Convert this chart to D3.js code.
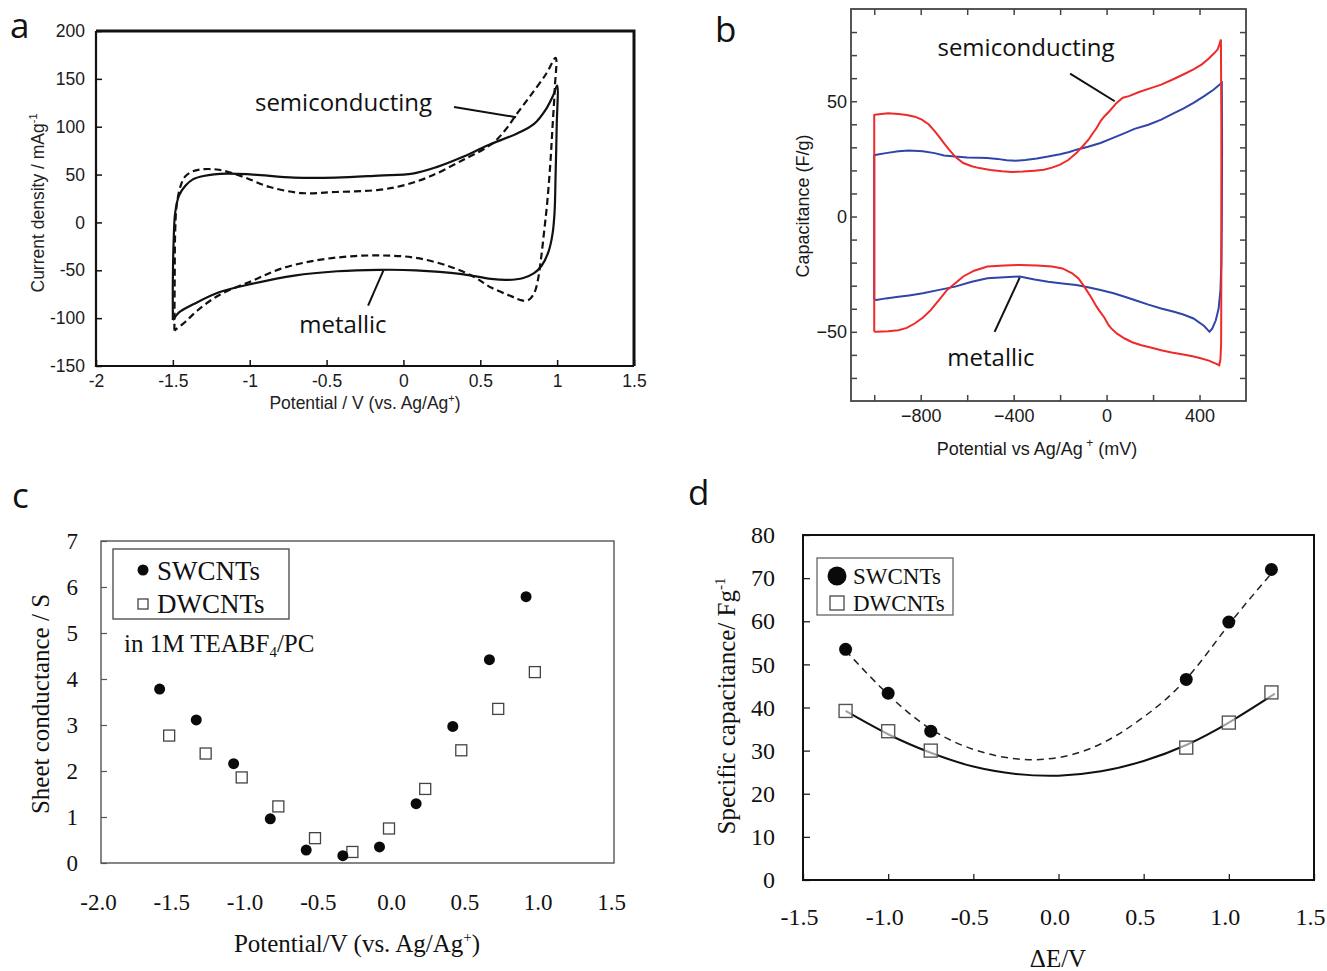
<!DOCTYPE html>
<html><head><meta charset="utf-8">
<script src="https://cdn.jsdelivr.net/npm/d3@7"></script>
<style>body{margin:0;background:#fff}</style>
</head><body><svg id="fig" width="1327" height="971"></svg>
<script>
// ---------- Panel a data ----------
const aTicksX = [-2,-1.5,-1,-0.5,0,0.5,1,1.5];
const aTicksY = [-150,-100,-50,0,50,100,150,200];
const aMetallic = [[-1.50,-102],[-1.50,-60],[-1.495,-20],[-1.485,10],[-1.46,28],[-1.42,38],[-1.37,45],[-1.3,48.5],[-1.15,51],[-0.98,50],[-0.71,46.8],[-0.44,46.8],[-0.16,49],[0.06,51],[0.22,58],[0.38,68],[0.55,80.6],[0.74,93],[0.85,103],[0.93,119],[0.975,133],[1.0,143],
[0.997,100],[0.99,50],[0.983,10],[0.97,-12],[0.945,-30],[0.9,-45],[0.85,-53],[0.78,-58],[0.68,-60],[0.57,-59],[0.38,-54],[0.08,-50],[-0.16,-49.5],[-0.43,-51],[-0.71,-55.5],[-0.98,-64],[-1.2,-73],[-1.36,-85],[-1.46,-94],[-1.50,-102]];
const aSemiconducting = [[-1.49,-113],[-1.488,-60],[-1.485,-10],[-1.475,18],[-1.45,38],[-1.42,48],[-1.37,53.5],[-1.31,55.5],[-1.2,55],[-1.04,47.5],[-0.87,37],[-0.66,30.7],[-0.44,31.8],[-0.16,34],[0.0,38.7],[0.165,47.5],[0.384,65],[0.575,82],[0.66,96],[0.74,114],[0.82,131],[0.93,155.6],[0.99,172],
[0.985,141],[0.97,100],[0.955,60],[0.935,20],[0.915,-10],[0.895,-38],[0.875,-60],[0.85,-74],[0.81,-81.5],[0.76,-81],[0.7,-77],[0.57,-68],[0.46,-57],[0.3,-46],[0.08,-37],[-0.14,-34.5],[-0.36,-35.6],[-0.58,-40],[-0.8,-48.5],[-0.98,-60.7],[-1.2,-76],[-1.34,-92],[-1.42,-104],[-1.49,-113]];

// ---------- Panel b data ----------
const bTicksX = [-1000,-800,-600,-400,-200,0,200,400];
const bLabelsX = [-800,-400,0,400];
const bTicksY = [-70,-60,-50,-40,-30,-20,-10,0,10,20,30,40,50,60,70,80];
const bLabelsY = [-50,0,50];
const bSemiconducting = [[-1000,-50],[-1000,44],[-990,44.2],[-940,44.8],[-896,44.5],[-860,44],[-826,43.3],[-795,42],[-765,39.9],[-740,37],[-722,34.8],[-700,31.8],[-678,29],[-650,25.8],[-617,23.2],[-580,21.8],[-548,21],[-500,20.2],[-450,19.6],[-409,19.3],[-360,19.5],[-310,19.9],[-270,20.3],[-235,21.2],[-200,22.5],[-165,24.5],[-130,27.5],[-100,30.8],[-78,33.3],[-60,36],[-43,38.4],[-25,41.5],[-9,43.5],[15,46],[43,49.3],[70,51.5],[96,52.2],[140,54],[190,55.7],[235,57.2],[280,59.2],[330,61.6],[374,63.8],[410,66],[440,68.5],[465,71],[478,72.5],[485,74.5],[492,76.8],
[494,40],[494,-20],[493,-55],[490,-62],[485,-64.5],[470,-63.8],[440,-62.5],[409,-61.6],[370,-60.6],[330,-59.8],[280,-59],[235,-58],[190,-56.8],[150,-55.8],[110,-54.5],[78,-52.9],[45,-50.8],[20,-48.5],[9,-47.1],[-10,-43.8],[-30,-41],[-43,-39.1],[-70,-34.5],[-96,-30.4],[-120,-27],[-148,-24.6],[-190,-22.5],[-235,-21.7],[-300,-21.2],[-374,-21],[-440,-21.2],[-513,-21.7],[-570,-23.5],[-617,-26],[-650,-28.8],[-687,-31.9],[-720,-36],[-757,-40.6],[-790,-43.8],[-826,-46.4],[-860,-48.3],[-896,-49.3],[-940,-49.8],[-991,-50],[-1000,-50]];
const bMetallic = [[-1000,-36],[-1000,26.5],[-991,26.8],[-950,27.5],[-896,28.3],[-850,28.6],[-791,28.3],[-740,27.5],[-700,26.5],[-652,26],[-600,25.6],[-550,25.5],[-513,25.4],[-470,25],[-430,24.4],[-391,24.2],[-350,24.5],[-300,25.2],[-252,26],[-200,27],[-160,28],[-130,29],[-80,30.3],[-26,31.9],[20,33.8],[78,36.2],[120,38],[180,39.8],[235,42],[290,44.8],[330,46.8],[374,49.3],[420,52.2],[460,55],[496,58],
[497,30],[496,0],[494,-20],[490,-32],[482,-40],[470,-45],[455,-48.5],[443,-50],[420,-47.5],[374,-44.2],[330,-42.5],[290,-41.3],[235,-39.9],[180,-38.2],[130,-36.5],[78,-34.8],[30,-33.3],[-26,-31.9],[-80,-30.7],[-130,-29.7],[-190,-29],[-252,-28.3],[-310,-27.3],[-374,-26],[-440,-26.3],[-513,-26.8],[-580,-28.3],[-652,-30.4],[-720,-31.8],[-791,-33.3],[-850,-34.2],[-896,-34.8],[-950,-35.5],[-991,-36.2],[-1000,-36]];

// ---------- Panel c data ----------
const cTicksX = [-2,-1.5,-1,-0.5,0,0.5,1,1.5];
const cTicksY = [0,1,2,3,4,5,6,7];
const cPotentialSW = [-1.6,-1.35,-1.095,-0.845,-0.6,-0.35,-0.1,0.15,0.4,0.65,0.9];
const cSheetSW = [3.78,3.11,2.16,0.96,0.28,0.16,0.35,1.29,2.97,4.42,5.79];
const cPotentialDW = [-1.535,-1.286,-1.04,-0.79,-0.54,-0.285,-0.035,0.212,0.458,0.71,0.96];
const cSheetDW = [2.77,2.38,1.86,1.23,0.54,0.24,0.75,1.61,2.45,3.35,4.15];

// ---------- Panel d data ----------
const dTicksX = [-1.5,-1,-0.5,0,0.5,1,1.5];
const dTicksY = [0,10,20,30,40,50,60,70,80];
const dDeltaE = [-1.25,-1,-0.75,0.75,1,1.25];
const dSW = [53.5,43.3,34.5,46.5,59.8,72];
const dDW = [39.2,34.5,30,30.7,36.5,43.5];
const dFitX = [-1.25,-1,-0.75,-0.5,-0.25,0,0.25,0.5,0.75,1,1.27];
const dFitSW = [53.2,43,35,30.3,28.1,28.4,31.6,37.8,46.6,59.2,72];
const dFitDW = [39.2,33.8,29.5,26.3,24.6,24.2,25.2,27.6,31.3,36.5,43.2];

const svg = d3.select("#fig");
svg.append("rect").attr("width",1327).attr("height",971).attr("fill","#fff");

const SANS = "'Liberation Sans', Arial, sans-serif";
const SERIF = "'Liberation Serif', 'Times New Roman', serif";
const CAL = "'Open Sans', 'Noto Sans', sans-serif";

function styleAxis(g, font, size, color){
  g.select(".domain").remove();
  g.selectAll("text").attr("font-family", font).attr("font-size", size).attr("fill", color);
}
function panelLetter(t,x,y){
  svg.append("text").attr("x",x).attr("y",y).attr("font-family",CAL).attr("font-size",35).attr("fill","#111").text(t);
}

// ================= Panel a =================
{
  const x = d3.scaleLinear().domain([-2,1.5]).range([96,634]);
  const y = d3.scaleLinear().domain([-150,200]).range([366,31]);
  const g = svg.append("g");
  const fmt = v => (v<0?"-":"")+Math.abs(v);
  g.append("g").attr("transform","translate(0,366)")
    .call(d3.axisBottom(x).tickValues(aTicksX).tickFormat(fmt).tickSize(-6).tickPadding(9))
    .call(a=>styleAxis(a,SANS,17.5,"#1a1a1a")).selectAll("line").attr("stroke","#111").attr("stroke-width",1.5);
  g.append("g").attr("transform","translate(96,0)")
    .call(d3.axisLeft(y).tickValues(aTicksY).tickFormat(fmt).tickSize(-6).tickPadding(11))
    .call(a=>styleAxis(a,SANS,17.5,"#1a1a1a")).selectAll("line").attr("stroke","#111").attr("stroke-width",1.5);
  const line = d3.line().x(d=>x(d[0])).y(d=>y(d[1])).curve(d3.curveCatmullRom.alpha(0.5));
  g.append("path").attr("d",line(aMetallic)).attr("fill","none").attr("stroke","#111").attr("stroke-width",2.2);
  g.append("path").attr("d",line(aSemiconducting)).attr("fill","none").attr("stroke","#111").attr("stroke-width",2.2).attr("stroke-dasharray","7,4");
  // frame
  g.append("path").attr("d",`M96,31V366H634`).attr("fill","none").attr("stroke","#111").attr("stroke-width",2.2);
  g.append("path").attr("d",`M96,31H634V366`).attr("fill","none").attr("stroke","#111").attr("stroke-width",3);
  // annotations
  g.append("line").attr("x1",x(0.329)).attr("y1",y(120.6)).attr("x2",x(0.733)).attr("y2",y(110)).attr("stroke","#111").attr("stroke-width",2);
  g.append("line").attr("x1",x(-0.23)).attr("y1",y(-87)).attr("x2",x(-0.13)).attr("y2",y(-50)).attr("stroke","#111").attr("stroke-width",2);
  g.append("text").attr("x",343.5).attr("y",111).attr("text-anchor","middle").attr("font-family",CAL).attr("font-size",24).attr("fill","#111").text("semiconducting");
  g.append("text").attr("x",343).attr("y",333).attr("text-anchor","middle").attr("font-family",CAL).attr("font-size",24).attr("fill","#111").text("metallic");
  // titles
  const yt = g.append("text").attr("transform","translate(44,203) rotate(-90)").attr("text-anchor","middle").attr("font-family",SANS).attr("font-size",17.5).attr("fill","#222");
  yt.append("tspan").text("Current density / mAg");
  yt.append("tspan").attr("font-size",11).attr("dy",-7).text("-1");
  const xt = g.append("text").attr("x",365).attr("y",409).attr("text-anchor","middle").attr("font-family",SANS).attr("font-size",17.5).attr("fill","#222");
  xt.append("tspan").text("Potential / V (vs. Ag/Ag");
  xt.append("tspan").attr("font-size",11).attr("dy",-7).text("+");
  xt.append("tspan").attr("dy",7).text(")");
  panelLetter("a",10,38);
}

// ================= Panel b =================
{
  const x = d3.scaleLinear().domain([-1100,600]).range([851,1246]);
  const y = d3.scaleLinear().domain([-80,90]).range([401,9]);
  const g = svg.append("g");
  const fmt = v => (v<0?"\u2212":"")+Math.abs(v);
  const fx = v => bLabelsX.includes(v)?fmt(v):"";
  const fy = v => bLabelsY.includes(v)?fmt(v):"";
  const tk = a => a.selectAll("line").attr("stroke","#444").attr("stroke-width",1.5);
  g.append("g").attr("transform","translate(0,401)").call(d3.axisBottom(x).tickValues(bTicksX).tickFormat(fx).tickSize(-6).tickPadding(8)).call(a=>styleAxis(a,SANS,18,"#1a1a1a")).call(tk);
  g.append("g").attr("transform","translate(0,9)").call(d3.axisTop(x).tickValues(bTicksX).tickFormat("").tickSize(-6)).call(a=>styleAxis(a,SANS,18,"#1a1a1a")).call(tk);
  g.append("g").attr("transform","translate(851,0)").call(d3.axisLeft(y).tickValues(bTicksY).tickFormat(fy).tickSize(-6).tickPadding(4)).call(a=>styleAxis(a,SANS,18,"#1a1a1a")).call(tk);
  g.append("g").attr("transform","translate(1246,0)").call(d3.axisRight(y).tickValues(bTicksY).tickFormat("").tickSize(-6)).call(a=>styleAxis(a,SANS,18,"#1a1a1a")).call(tk);
  g.append("rect").attr("x",851).attr("y",9).attr("width",395).attr("height",392).attr("fill","none").attr("stroke","#444").attr("stroke-width",1.8);
  const line = d3.line().x(d=>x(d[0])).y(d=>y(d[1])).curve(d3.curveLinear);
  g.append("path").attr("d",line(bMetallic)).attr("fill","none").attr("stroke","#2f45a8").attr("stroke-width",2);
  g.append("path").attr("d",line(bSemiconducting)).attr("fill","none").attr("stroke","#ee2a2a").attr("stroke-width",2);
  g.append("line").attr("x1",x(-157)).attr("y1",y(62)).attr("x2",x(35)).attr("y2",y(50)).attr("stroke","#111").attr("stroke-width",2);
  g.append("line").attr("x1",x(-482)).attr("y1",y(-50)).attr("x2",x(-374)).attr("y2",y(-26.5)).attr("stroke","#111").attr("stroke-width",2);
  g.append("text").attr("x",1026).attr("y",56).attr("text-anchor","middle").attr("font-family",CAL).attr("font-size",24).attr("fill","#111").text("semiconducting");
  g.append("text").attr("x",991).attr("y",366).attr("text-anchor","middle").attr("font-family",CAL).attr("font-size",24).attr("fill","#111").text("metallic");
  g.append("text").attr("transform","translate(809,206) rotate(-90)").attr("text-anchor","middle").attr("font-family",SANS).attr("font-size",18).attr("fill","#1a1a1a").text("Capacitance (F/g)");
  const xt = g.append("text").attr("x",1037).attr("y",455).attr("text-anchor","middle").attr("font-family",SANS).attr("font-size",18).attr("fill","#1a1a1a");
  xt.append("tspan").text("Potential vs Ag/Ag");
  xt.append("tspan").attr("font-size",12).attr("dy",-8).text(" +");
  xt.append("tspan").attr("dy",8).text(" (mV)");
  panelLetter("b",715,42);
}

// ================= Panel c =================
{
  const x = d3.scaleLinear().domain([-2,1.5]).range([101,614]);
  const y = d3.scaleLinear().domain([0,7]).range([863,541]);
  const g = svg.append("g");
  const fx = v => (v<0?"-":"")+Math.abs(v).toFixed(1);
  g.append("g").attr("transform","translate(-3,863)").call(d3.axisBottom(x).tickValues(cTicksX).tickFormat(fx).tickSize(0).tickPadding(31)).call(a=>styleAxis(a,SERIF,23,"#111"));
  g.append("g").attr("transform","translate(101,0)").call(d3.axisLeft(y).tickValues(cTicksY).tickFormat(d3.format("d")).tickSize(-6).tickPadding(23)).call(a=>styleAxis(a,SERIF,23,"#111")).selectAll("line").attr("stroke","#555").attr("stroke-width",1.2);
  g.append("rect").attr("x",101).attr("y",541).attr("width",513).attr("height",322).attr("fill","none").attr("stroke","#555").attr("stroke-width",1.4);
  g.selectAll(".dw").data(cPotentialDW).enter().append("rect")
    .attr("x",(d,i)=>x(d)-5.5).attr("y",(d,i)=>y(cSheetDW[i])-5.5).attr("width",11).attr("height",11)
    .attr("fill","#fff").attr("stroke","#444").attr("stroke-width",1.3);
  g.selectAll(".sw").data(cPotentialSW).enter().append("circle")
    .attr("cx",d=>x(d)).attr("cy",(d,i)=>y(cSheetSW[i])).attr("r",5.5).attr("fill","#0a0a0a");
  // legend
  g.append("rect").attr("x",113).attr("y",549).attr("width",176).attr("height",70).attr("fill","#fff").attr("stroke","#444").attr("stroke-width",1.3);
  g.append("circle").attr("cx",143).attr("cy",570).attr("r",5.5).attr("fill","#0a0a0a");
  g.append("rect").attr("x",138).attr("y",599).attr("width",10).attr("height",10).attr("fill","#fff").attr("stroke","#444").attr("stroke-width",1.3);
  g.append("text").attr("x",157).attr("y",580).attr("font-family",SERIF).attr("font-size",27).attr("fill","#111").text("SWCNTs");
  g.append("text").attr("x",157).attr("y",613).attr("font-family",SERIF).attr("font-size",27).attr("fill","#111").text("DWCNTs");
  const note = g.append("text").attr("x",124).attr("y",652).attr("font-family",SERIF).attr("font-size",25).attr("fill","#111");
  note.append("tspan").text("in 1M TEABF");
  note.append("tspan").attr("font-size",15).attr("dy",5).text("4");
  note.append("tspan").attr("dy",-5).text("/PC");
  g.append("text").attr("transform","translate(49,704) rotate(-90)").attr("text-anchor","middle").attr("font-family",SERIF).attr("font-size",25).attr("fill","#111").text("Sheet conductance / S");
  const xt = g.append("text").attr("x",357).attr("y",952).attr("text-anchor","middle").attr("font-family",SERIF).attr("font-size",25).attr("fill","#111");
  xt.append("tspan").text("Potential/V (vs. Ag/Ag");
  xt.append("tspan").attr("font-size",15).attr("dy",-10).text("+");
  xt.append("tspan").attr("dy",10).text(")");
  panelLetter("c",12,508);
}

// ================= Panel d =================
{
  const x = d3.scaleLinear().domain([-1.5,1.5]).range([803,1314]);
  const y = d3.scaleLinear().domain([0,80]).range([880,535]);
  const g = svg.append("g");
  const fx = v => (v<0?"-":"")+Math.abs(v).toFixed(1);
  g.append("g").attr("transform","translate(0,880)").call(d3.axisBottom(x).tickValues(dTicksX).tickFormat(fx).tickSize(-6).tickPadding(28)).call(a=>styleAxis(a,SERIF,24,"#111")).selectAll("line").attr("stroke","#222").attr("stroke-width",1.3);
  g.selectAll(".tick text").attr("dx",-4);
  g.append("g").attr("transform","translate(803,0)").call(d3.axisLeft(y).tickValues(dTicksY).tickFormat(d3.format("d")).tickSize(-7).tickPadding(28)).call(a=>styleAxis(a,SERIF,24,"#111")).selectAll("line").attr("stroke","#222").attr("stroke-width",1.3);
  g.append("rect").attr("x",803).attr("y",535).attr("width",511).attr("height",345).attr("fill","none").attr("stroke","#111").attr("stroke-width",2);
  const line = d3.line().x((d,i)=>x(dFitX[i])).y(d=>y(d)).curve(d3.curveNatural);
  g.append("path").attr("d",line(dFitSW)).attr("fill","none").attr("stroke","#222").attr("stroke-width",1.5).attr("stroke-dasharray","7,5");
  g.append("path").attr("d",line(dFitDW)).attr("fill","none").attr("stroke","#111").attr("stroke-width",2);
  g.selectAll(".dw").data(dDeltaE).enter().append("rect")
    .attr("x",d=>x(d)-6.5).attr("y",(d,i)=>y(dDW[i])-6.5).attr("width",13).attr("height",13)
    .attr("fill","#fff").attr("fill-opacity",0.6).attr("stroke","#555").attr("stroke-width",1.4);
  g.selectAll(".sw").data(dDeltaE).enter().append("circle")
    .attr("cx",d=>x(d)).attr("cy",(d,i)=>y(dSW[i])).attr("r",6.5).attr("fill","#0a0a0a");
  // legend
  g.append("rect").attr("x",817).attr("y",558).attr("width",136).attr("height",57).attr("fill","#fff").attr("stroke","#666").attr("stroke-width",1.3);
  g.append("circle").attr("cx",837).attr("cy",576).attr("r",9.5).attr("fill","#0a0a0a");
  g.append("rect").attr("x",830).attr("y",596).attr("width",14).attr("height",14).attr("fill","#fff").attr("stroke","#555").attr("stroke-width",1.4);
  g.append("text").attr("x",853).attr("y",584).attr("font-family",SERIF).attr("font-size",23).attr("fill","#111").text("SWCNTs");
  g.append("text").attr("x",853).attr("y",611).attr("font-family",SERIF).attr("font-size",23).attr("fill","#111").text("DWCNTs");
  const yt = g.append("text").attr("transform","translate(735,706) rotate(-90)").attr("text-anchor","middle").attr("font-family",SERIF).attr("font-size",25).attr("fill","#111");
  yt.append("tspan").text("Specific capacitance/ Fg");
  yt.append("tspan").attr("font-size",15).attr("dy",-10).text("-1");
  g.append("text").attr("x",1058).attr("y",967).attr("text-anchor","middle").attr("font-family",SERIF).attr("font-size",25).attr("fill","#111").text("\u0394E/V");
  panelLetter("d",688,505);
}
</script></body></html>
